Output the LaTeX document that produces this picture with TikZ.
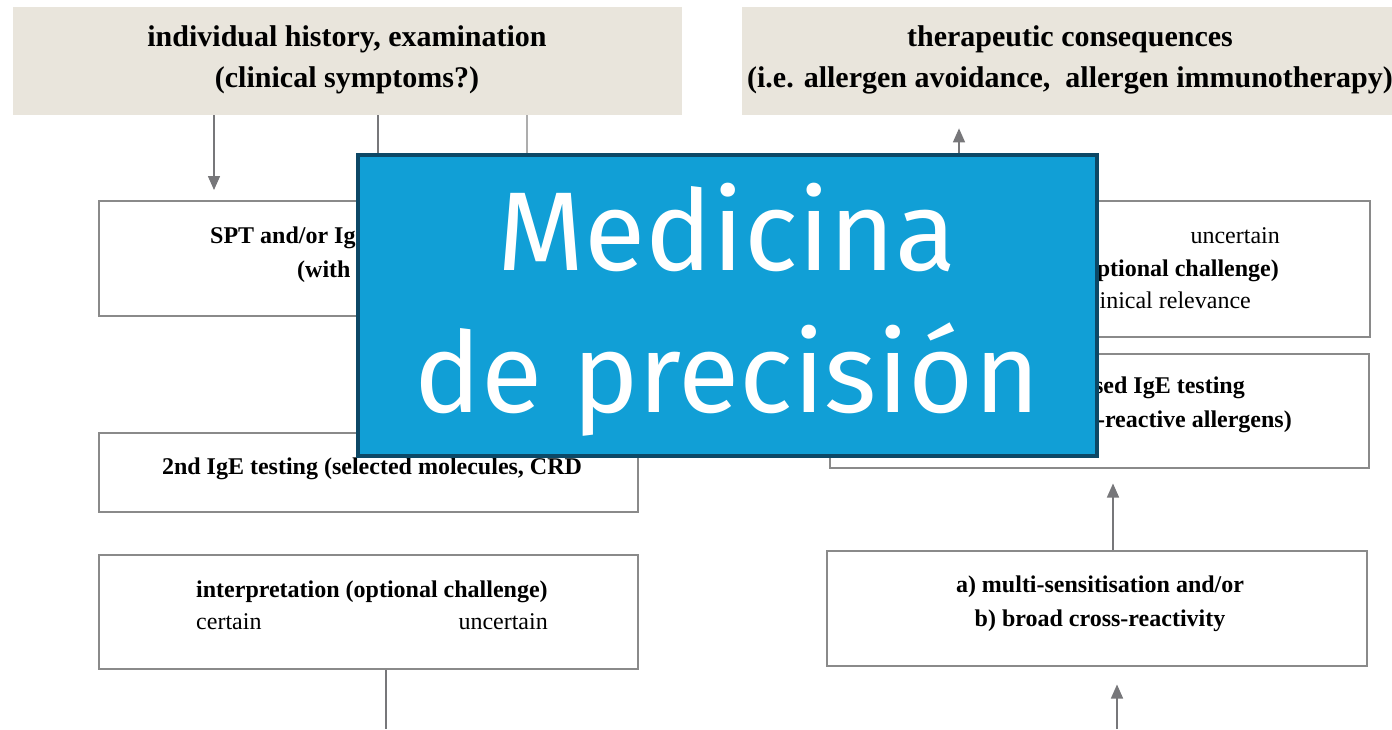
\documentclass[tikz,border=0pt]{standalone}
\usepackage{fontspec}
\setmainfont{Liberation Serif}
\newfontfamily\ovfont{Fira Sans}
\usetikzlibrary{arrows.meta}
\definecolor{beige}{HTML}{E9E5DC}
\definecolor{boxgray}{HTML}{8A8A8A}
\definecolor{arrgray}{HTML}{77777A}
\definecolor{ovfill}{HTML}{119FD6}
\definecolor{ovborder}{HTML}{0C4866}
\tikzset{
  topbox/.style={fill=beige, draw=none, inner sep=0pt, anchor=north west},
  box/.style={draw=boxgray, line width=1.5pt, fill=white, inner sep=0pt, anchor=north west},
  toptxt/.style={font=\fontsize{30}{34}\selectfont\bfseries, inner sep=0pt, anchor=base},
  btxt/.style={font=\fontsize{24}{28}\selectfont\bfseries, inner sep=0pt},
  rtxt/.style={font=\fontsize{24}{28}\selectfont, inner sep=0pt},
  arr/.style={draw=arrgray, line width=1.5pt, -{Triangle[width=12pt,length=14pt]}},
  conn/.style={draw=arrgray, line width=1.5pt},
  ovtxt/.style={font=\ovfont\fontsize{112}{130}\selectfont, text=white, inner sep=0pt, anchor=base}
}
\begin{document}
\begin{tikzpicture}[x=1pt,y=-1pt]
\path[use as bounding box, fill=white] (0,0) rectangle (1392,729);

% top boxes
\node[topbox, minimum width=669pt, minimum height=108pt] (hist) at (13,7) {};
\node[toptxt] (hist1) at (347,46) {individual history, examination};
\node[toptxt] (hist2) at (347,87) {(clinical symptoms?)};
\node[topbox, minimum width=656pt, minimum height=108pt] (ther) at (742,7) {};
\node[toptxt] (ther1) at (1070,46) {therapeutic consequences};
\node[toptxt] (ther2) at (1070,87) {(i.e. allergen avoidance,\ \ allergen immunotherapy)};

% left boxes
\node[box, minimum width=539pt, minimum height=115pt] (spt) at (98,200) {};
\node[btxt, anchor=base west] (spt1) at (210,243) {SPT and/or Ig};
\node[btxt, anchor=base west] (spt2) at (297,277) {(with};

\node[box, minimum width=539pt, minimum height=79pt] (ige2) at (98,432) {};
\node[btxt, anchor=base] (ige2t) at (372,474) {2nd IgE testing (selected molecules, CRD};

\node[box, minimum width=539pt, minimum height=114pt] (interp) at (98,554) {};
\node[btxt, anchor=base west] (interp1) at (196,597) {interpretation (optional challenge)};
\node[rtxt, anchor=base west] (interp2) at (196,629) {certain};
\node[rtxt, anchor=base east] (interp3) at (548,629) {uncertain};

% right boxes
\node[box, minimum width=540pt, minimum height=136pt] (r1) at (829,200) {};
\node[rtxt, anchor=base east] (r1a) at (1280,243) {uncertain};
\node[btxt, anchor=base east] (r1b) at (1279,276) {ptional challenge)};
\node[rtxt, anchor=base east] (r1c) at (1251,308) {linical relevance};

\node[box, minimum width=539pt, minimum height=114pt] (r2) at (829,353) {};
\node[btxt, anchor=base east] (r2a) at (1245,393) {sed IgE testing};
\node[btxt, anchor=base east] (r2b) at (1292,427) {-reactive allergens)};

\node[box, minimum width=540pt, minimum height=115pt] (r3) at (826,550) {};
\node[btxt, anchor=base] (r3a) at (1100,592) {a) multi-sensitisation and/or};
\node[btxt, anchor=base] (r3b) at (1100,626) {b) broad cross-reactivity};

% connector coordinates
\coordinate (xa) at (214,0);
\coordinate (xb) at (378,0);
\coordinate (xc) at (527,0);
\coordinate (xd) at (959,0);
\coordinate (xe) at (1113,0);
\coordinate (xf) at (1117,729);
\coordinate (xg) at (386,729);

\draw[arr, shorten >=10pt] (hist.south -| xa) -- (spt.north -| xa);
\draw[arr, shorten >=10pt] (hist.south -| xb) -- (spt.north -| xb);
\draw[arr, draw=boxgray!70, shorten >=10pt] (hist.south -| xc) -- (spt.north -| xc);
\draw[arr, shorten >=13pt] (r1.north -| xd) -- (ther.south -| xd);
\draw[arr, shorten >=15pt] (r3.north -| xe) -- (r2.south -| xe);
\draw[arr, shorten >=18pt] (xf) -- (r3.south -| xf);
\draw[conn] (interp.south -| xg) -- (xg);

% overlay
\node[draw=ovborder, fill=ovfill, line width=4pt, inner sep=0pt, anchor=north west,
      minimum width=739pt, minimum height=301pt] (ov) at (356,153) {};
\node[ovtxt] (ov1) at (727,270) {Medicina};
\node[ovtxt] (ov2) at (727,412) {de precisión};
\end{tikzpicture}
\end{document}
